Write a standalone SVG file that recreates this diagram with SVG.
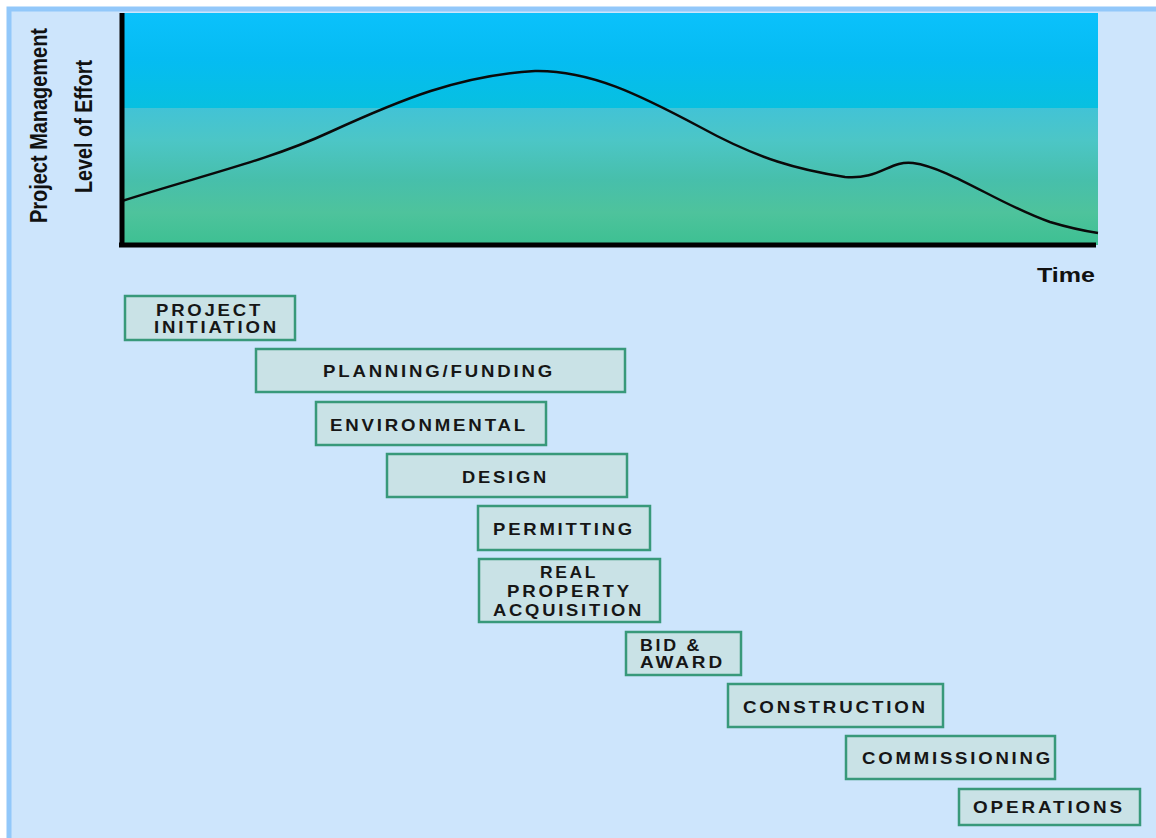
<svg xmlns="http://www.w3.org/2000/svg" width="1156" height="838" viewBox="0 0 1156 838">
  <defs>
    <linearGradient id="effortFill" gradientUnits="userSpaceOnUse" x1="0" y1="13" x2="0" y2="245">
      <stop offset="0" stop-color="#0bc1fc"/>
      <stop offset="0.2" stop-color="#05bcf2"/>
      <stop offset="0.409" stop-color="#07c0e0"/>
      <stop offset="0.41" stop-color="#42c3d6"/>
      <stop offset="0.55" stop-color="#4cc6c6"/>
      <stop offset="0.72" stop-color="#47bfab"/>
      <stop offset="0.86" stop-color="#4ec39c"/>
      <stop offset="1" stop-color="#3dc092"/>
    </linearGradient>
  </defs>
  <style>
    .phase rect { fill: #c9e2e6; stroke: #38997a; stroke-width: 2.5; }
    .phase text { font-family: "Liberation Sans", Arial, sans-serif; font-weight: bold; font-size: 16.5px; letter-spacing: 2.5px; fill: #161616; }
    .axis-label { font-family: "Liberation Sans", Arial, sans-serif; font-weight: bold; fill: #111; }
    .axis { stroke: #000; stroke-width: 5; fill: none; }
  </style>

  <!-- page background and frame -->
  <rect x="0" y="0" width="1156" height="838" fill="#ffffff"/>
  <rect x="9" y="9" width="1160" height="840" fill="#cde5fc" stroke="#92c8fa" stroke-width="5"/>

  <!-- effort chart -->
  <g id="effort-chart">
    <rect x="122" y="13" width="976" height="232" fill="url(#effortFill)"/>
    <path d="M122,201 C200,176 270,160 330,132 C400,100 460,75 535,71 C590,70 640,95 700,127 C760,160 800,170 845,177 C880,180 890,160 913,163 C950,168 1000,205 1050,222 C1070,228 1085,231 1098,233" fill="none" stroke="#0a0a0a" stroke-width="2.5"/>
    <line class="axis" x1="122" y1="13" x2="122" y2="247"/>
    <line class="axis" x1="119" y1="245" x2="1096" y2="245"/>
    <text class="axis-label" transform="translate(46.5,125.5) rotate(-90)" text-anchor="middle" font-size="23" textLength="195" lengthAdjust="spacingAndGlyphs">Project Management</text>
    <text class="axis-label" transform="translate(91.5,126.5) rotate(-90)" text-anchor="middle" font-size="24" textLength="133" lengthAdjust="spacingAndGlyphs">Level of Effort</text>
    <text class="axis-label" x="1037" y="282" font-size="20" textLength="58" lengthAdjust="spacingAndGlyphs">Time</text>
  </g>

  <!-- project phases -->
  <g id="phase-initiation" class="phase">
    <rect x="125" y="296" width="170" height="44"/>
    <text x="156" y="316" textLength="107" lengthAdjust="spacingAndGlyphs">PROJECT</text>
    <text x="154" y="333" textLength="125" lengthAdjust="spacingAndGlyphs">INITIATION</text>
  </g>
  <g id="phase-planning" class="phase">
    <rect x="256" y="349" width="369" height="43"/>
    <text x="323" y="377" textLength="232" lengthAdjust="spacingAndGlyphs">PLANNING/FUNDING</text>
  </g>
  <g id="phase-environmental" class="phase">
    <rect x="316" y="402" width="230" height="43"/>
    <text x="330" y="431" textLength="198" lengthAdjust="spacingAndGlyphs">ENVIRONMENTAL</text>
  </g>
  <g id="phase-design" class="phase">
    <rect x="387" y="454" width="240" height="43"/>
    <text x="462" y="483" textLength="87" lengthAdjust="spacingAndGlyphs">DESIGN</text>
  </g>
  <g id="phase-permitting" class="phase">
    <rect x="478" y="506" width="172" height="44"/>
    <text x="493" y="535" textLength="142" lengthAdjust="spacingAndGlyphs">PERMITTING</text>
  </g>
  <g id="phase-property" class="phase">
    <rect x="479" y="559" width="181" height="63"/>
    <text x="540" y="578" textLength="58" lengthAdjust="spacingAndGlyphs">REAL</text>
    <text x="507" y="597" textLength="125" lengthAdjust="spacingAndGlyphs">PROPERTY</text>
    <text x="493" y="616" textLength="151" lengthAdjust="spacingAndGlyphs">ACQUISITION</text>
  </g>
  <g id="phase-bid" class="phase">
    <rect x="626" y="632" width="115" height="43"/>
    <text x="640" y="651" textLength="62" lengthAdjust="spacingAndGlyphs">BID &amp;</text>
    <text x="640" y="668" textLength="85" lengthAdjust="spacingAndGlyphs">AWARD</text>
  </g>
  <g id="phase-construction" class="phase">
    <rect x="728" y="684" width="215" height="43"/>
    <text x="743" y="713" textLength="185" lengthAdjust="spacingAndGlyphs">CONSTRUCTION</text>
  </g>
  <g id="phase-commissioning" class="phase">
    <rect x="846" y="736" width="209" height="43"/>
    <text x="862" y="764" textLength="191" lengthAdjust="spacingAndGlyphs">COMMISSIONING</text>
  </g>
  <g id="phase-operations" class="phase">
    <rect x="959" y="789" width="181" height="36"/>
    <text x="973" y="813" textLength="152" lengthAdjust="spacingAndGlyphs">OPERATIONS</text>
  </g>

  <!-- no connectors between phases -->
  <g id="connectors"/>
</svg>
